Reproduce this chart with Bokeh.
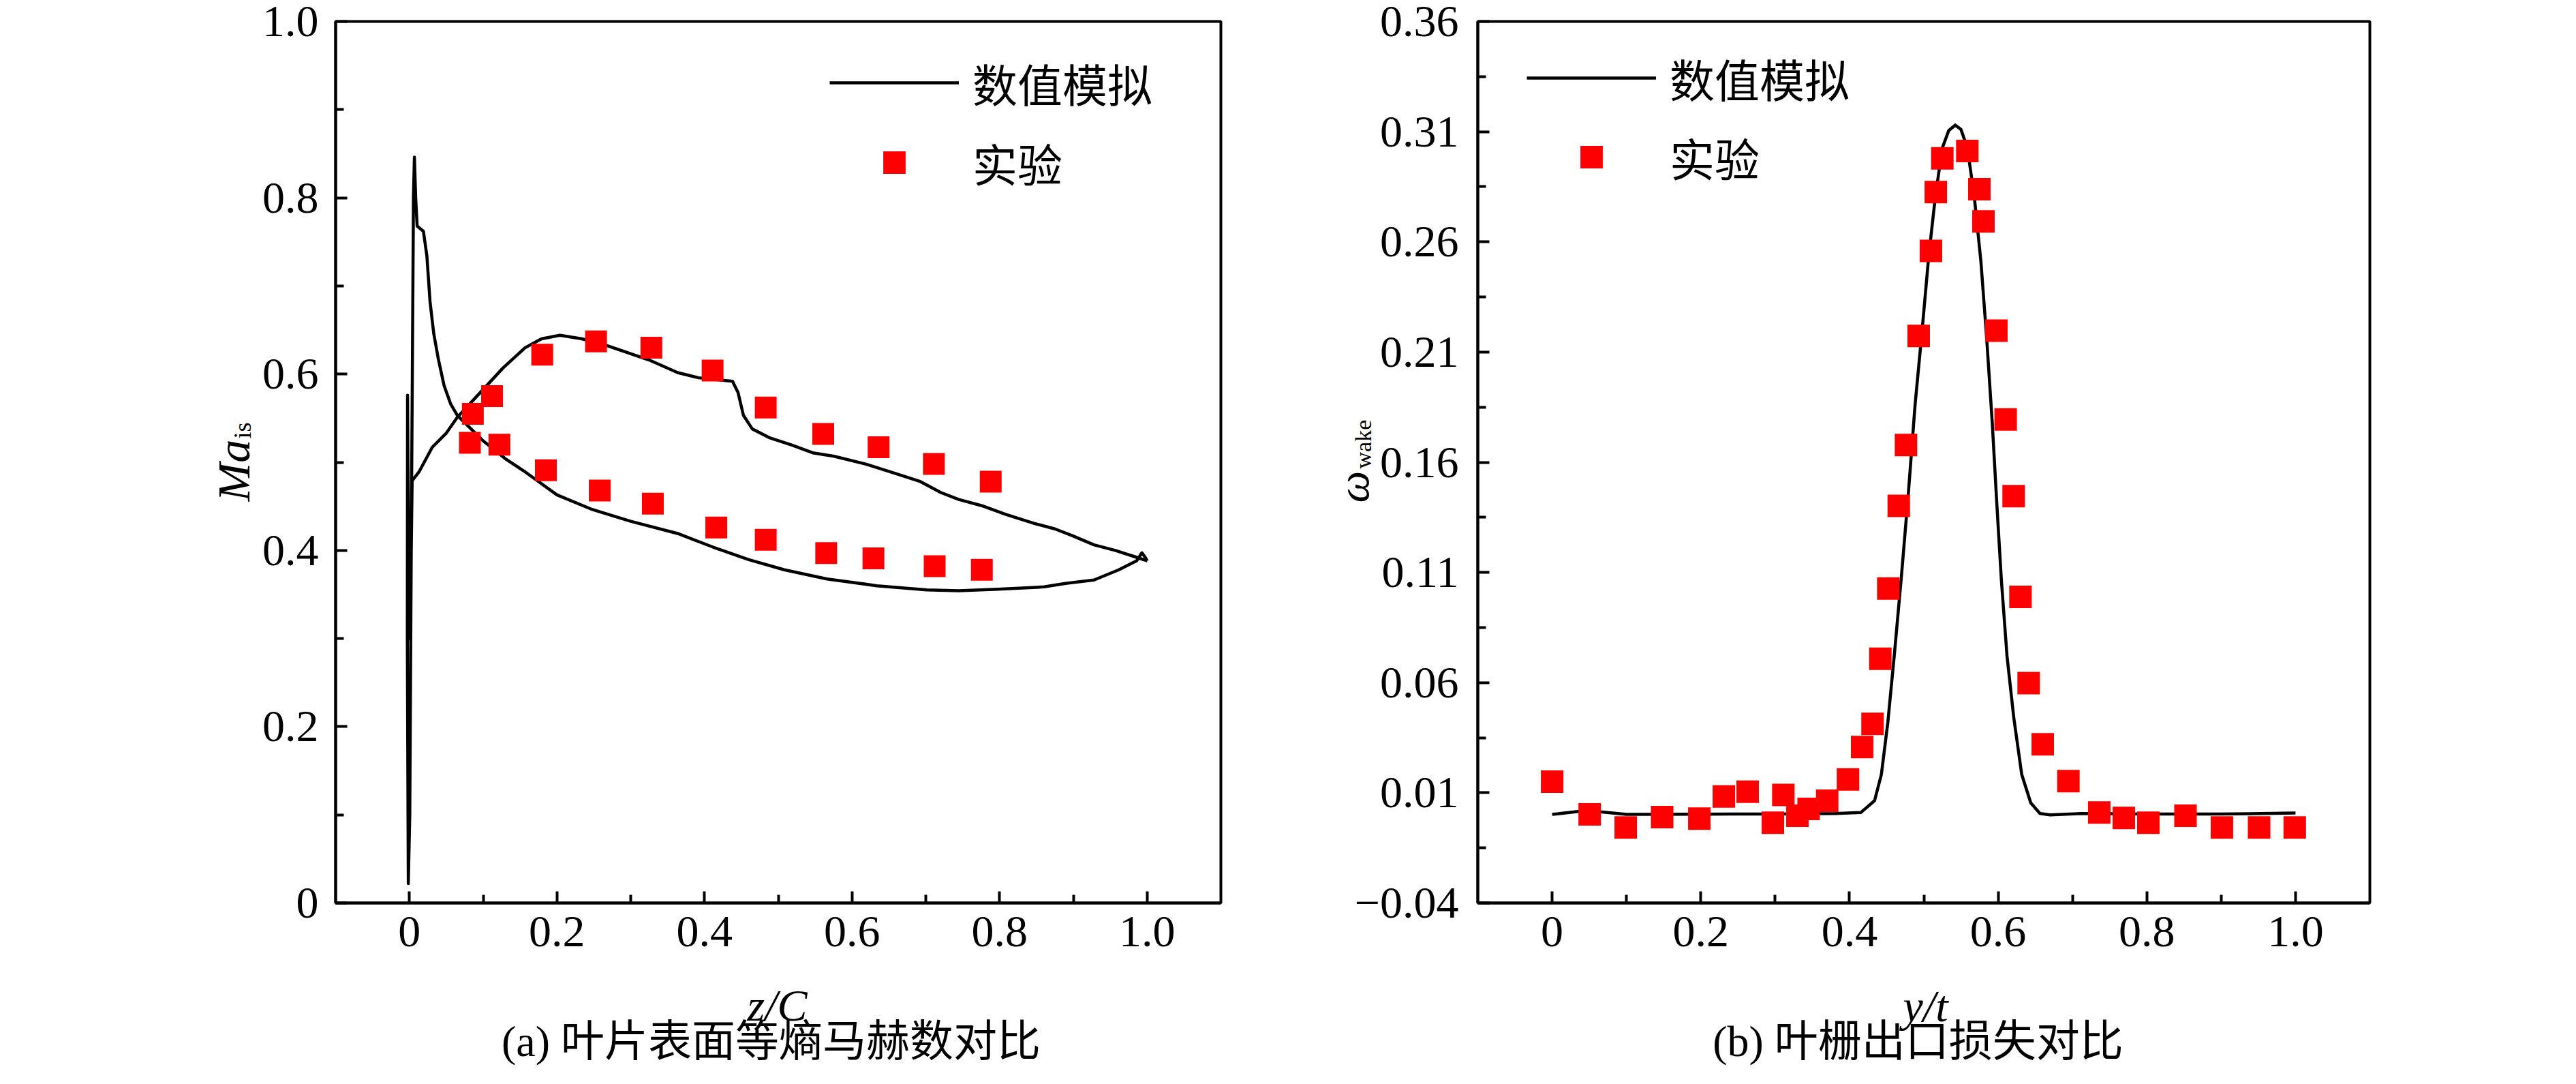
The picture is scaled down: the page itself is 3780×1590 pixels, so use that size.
import math
from bokeh.plotting import figure
from bokeh.models import Range1d, FixedTicker, Legend, LegendItem
from bokeh.layouts import row, column
from bokeh.embed import file_html
from bokeh.resources import INLINE
from bokeh.core.properties import value

# ---------------- (a) isentropic Mach number on blade surface ----------------
ma_sim_z = [1.0003, 0.9859, 0.9569, 0.9279, 0.899, 0.8749, 0.846, 0.8074, 0.7784,
            0.7447, 0.7205, 0.6915, 0.6578, 0.6192, 0.5757, 0.5468, 0.5179, 0.4889,
            0.4648, 0.4528, 0.4455, 0.438, 0.392, 0.3635, 0.325, 0.269, 0.234, 0.204,
            0.179, 0.157, 0.127, 0.096, 0.065, 0.05, 0.031, 0.013, 0.0037,
            0.0025, 0.0005, -0.0015, -0.0028, -0.0025, -0.002, 0.0, 0.002, 0.004,
            0.0055, 0.0068, 0.0085, 0.0105, 0.019, 0.0237,
            0.028, 0.033, 0.039, 0.047, 0.056, 0.065, 0.081, 0.099, 0.130, 0.157,
            0.2, 0.246, 0.30, 0.3635, 0.4117, 0.46, 0.5082, 0.5661, 0.6337, 0.7012,
            0.7447, 0.7977, 0.8604, 0.8894, 0.928, 0.9617, 0.9859, 0.993, 0.9975, 1.0003]
ma_sim_val = [0.3882, 0.3921, 0.3999, 0.4063, 0.4166, 0.4244, 0.4308, 0.4411, 0.4501,
              0.4578, 0.4656, 0.4785, 0.4875, 0.4978, 0.5068, 0.5107, 0.5197, 0.5275,
              0.5378, 0.5532, 0.579, 0.5919, 0.5958, 0.6017, 0.616, 0.632, 0.640, 0.644,
              0.640, 0.630, 0.607, 0.579, 0.551, 0.533, 0.517, 0.489, 0.479,
              0.40, 0.10, 0.022, 0.30, 0.576, 0.50, 0.30, 0.35, 0.60,
              0.80, 0.846, 0.80, 0.768, 0.762, 0.734,
              0.682, 0.646, 0.618, 0.587, 0.566, 0.553, 0.540, 0.525, 0.504, 0.489,
              0.463, 0.447, 0.433, 0.4192, 0.4037, 0.3895, 0.378, 0.3676, 0.3599, 0.3552,
              0.3542, 0.356, 0.3586, 0.3625, 0.3664, 0.378, 0.3882, 0.3973, 0.392, 0.3882]

ma_exp_z = [0.086, 0.112, 0.18, 0.253, 0.328, 0.411, 0.483, 0.561, 0.636, 0.711, 0.788,
            0.082, 0.122, 0.185, 0.258, 0.33, 0.416, 0.483, 0.565, 0.629, 0.712, 0.776]
ma_exp_val = [0.555, 0.575, 0.622, 0.637, 0.630, 0.604, 0.562, 0.532, 0.517, 0.498, 0.478,
              0.522, 0.520, 0.491, 0.468, 0.453, 0.426, 0.412, 0.397, 0.391, 0.382, 0.378]

# ---------------- (b) cascade exit loss ----------------
wake_sim_y = [0.0, 0.035, 0.06, 0.1, 0.2, 0.3, 0.3813, 0.4154, 0.4337, 0.4429, 0.4516,
              0.4608, 0.47, 0.4791, 0.4883, 0.4974, 0.5065, 0.5157, 0.525, 0.5335,
              0.5423, 0.55, 0.5585, 0.5677, 0.5768, 0.5845, 0.5921, 0.5982, 0.6043,
              0.6119, 0.621, 0.6317, 0.6439, 0.6563, 0.67, 0.7113, 0.8, 0.9, 1.0]
wake_sim_val = [0.0002, 0.0015, 0.0015, 0.0002, 0.0003, 0.0004, 0.0006, 0.0011, 0.0064,
                0.0183, 0.042, 0.0743, 0.1088, 0.1454, 0.1863, 0.2187, 0.2531, 0.2811,
                0.3027, 0.3105, 0.313, 0.311, 0.3027, 0.2811, 0.251, 0.2165, 0.1777,
                0.1411, 0.1067, 0.0721, 0.0441, 0.0183, 0.0054, 0.0006, 0.0, 0.0006,
                0.0004, 0.0004, 0.0008]

wake_exp_y = [0.0, 0.0505, 0.099, 0.148, 0.198, 0.231, 0.263, 0.297, 0.311, 0.33, 0.345,
              0.37, 0.398, 0.417, 0.431, 0.4415, 0.4522, 0.4663, 0.476, 0.4931, 0.5096,
              0.5161, 0.5249, 0.5585, 0.5747, 0.5802, 0.5976, 0.6101, 0.6208, 0.63,
              0.641, 0.66, 0.6945, 0.736, 0.769, 0.802, 0.852, 0.901, 0.951, 0.999]
wake_exp_val = [0.0151, 0.0002, -0.0057, -0.001, -0.0017, 0.0083, 0.0105, -0.0036, 0.009,
                -0.0004, 0.0027, 0.0064, 0.0161, 0.0308, 0.0413, 0.0708, 0.1027, 0.1402,
                0.1678, 0.2173, 0.2559, 0.2826, 0.2979, 0.3012, 0.2839, 0.2693, 0.2197,
                0.1794, 0.1446, 0.0989, 0.0598, 0.032, 0.0153, 0.0011, -0.0014, -0.0036,
                -0.0004, -0.0057, -0.0057, -0.0057]

# ---------------- ticks ----------------
x_ticks = [0, 0.2, 0.4, 0.6, 0.8, 1.0]
x_tick_labels = ["0", "0.2", "0.4", "0.6", "0.8", "1.0"]
x_minor = [0.1, 0.3, 0.5, 0.7, 0.9]
ma_ticks = [0, 0.2, 0.4, 0.6, 0.8, 1.0]
ma_tick_labels = ["0", "0.2", "0.4", "0.6", "0.8", "1.0"]
ma_minor = [0.1, 0.3, 0.5, 0.7, 0.9]
wake_ticks = [-0.04, 0.01, 0.06, 0.11, 0.16, 0.21, 0.26, 0.31, 0.36]
wake_tick_labels = ["\u22120.04", "0.01", "0.06", "0.11", "0.16", "0.21", "0.26", "0.31", "0.36"]
wake_minor = [-0.015, 0.035, 0.085, 0.135, 0.185, 0.235, 0.285, 0.335]

legend_labels = ["数值模拟", "实验"]

# ---------------- texts outside the plot frames (page pixels, y downward) ----------------
axis_texts = ["Ma", "is", "z/C", "\u03c9", "wake", "y/t"]
axis_text_x = [342, 355, 1140, 1985, 2000, 2825]
axis_text_y = [735, 643, 1474, 737, 687, 1475]
axis_text_size = ["68px", "36px", "66px", "66px", "34px", "66px"]
axis_text_style = ["italic", "normal", "italic", "italic", "normal", "italic"]
axis_text_angle = [math.pi / 2, math.pi / 2, 0, math.pi / 2, math.pi / 2, 0]
axis_text_align = ["left", "left", "center", "left", "left", "center"]

captions = ["(a) 叶片表面等熵马赫数对比", "(b) 叶栅出口损失对比"]
caption_x = [1131, 2814]
caption_y = [1527, 1527]

SERIF = "Liberation Serif"
CJK = "'Liberation Serif', 'Noto Sans CJK SC'"
RED = "#FF0000"
PAGE_W, PAGE_H = 3764, 1574


def style(p, xt, xl, xm, yt, yl, ym, ystand):
    p.xgrid.visible = False
    p.ygrid.visible = False
    p.outline_line_color = "black"
    p.outline_line_width = 4
    p.outline_line_alpha = 1.0
    p.background_fill_color = "white"
    p.border_fill_color = "white"
    for ax, t, l, m in ((p.xaxis[0], xt, xl, xm), (p.yaxis[0], yt, yl, ym)):
        ax.ticker = FixedTicker(ticks=t, minor_ticks=m)
        ax.major_label_overrides = {v: s for v, s in zip(t, l)}
        ax.axis_line_width = 4
        ax.axis_line_color = "black"
        ax.major_tick_in = 17
        ax.major_tick_out = 0
        ax.minor_tick_in = 12
        ax.minor_tick_out = 0
        ax.major_tick_line_width = 4
        ax.minor_tick_line_width = 4
        ax.major_tick_line_color = "black"
        ax.minor_tick_line_color = "black"
        ax.major_label_text_font = SERIF
        ax.major_label_text_font_size = "66px"
        ax.major_label_text_color = "black"
    p.xaxis[0].major_label_standoff = 20
    p.yaxis[0].major_label_standoff = ystand


def add_legend(p, line_r, sc_r, loc, spacing):
    lg = Legend(items=[LegendItem(label=legend_labels[0], renderers=[line_r]),
                       LegendItem(label=legend_labels[1], renderers=[sc_r])],
                location=loc, glyph_width=190, glyph_height=82, spacing=spacing,
                label_standoff=20, padding=0, margin=0,
                border_line_alpha=0, background_fill_alpha=0,
                label_text_font="Noto Sans CJK SC", label_text_font_size="66px",
                label_text_color="black")
    p.add_layout(lg)


# ---------------- figure (a) ----------------
p1 = figure(width=1880, height=PAGE_H, x_range=Range1d(-0.1, 1.1), y_range=Range1d(0, 1.0),
            output_backend="svg", toolbar_location=None,
            min_border_left=492, min_border_right=89, min_border_top=31, min_border_bottom=250)
style(p1, x_ticks, x_tick_labels, x_minor, ma_ticks, ma_tick_labels, ma_minor, 25)
l1 = p1.line(ma_sim_z, ma_sim_val, line_color="black", line_width=4.5, line_join="round")
s1 = p1.scatter(ma_exp_z, ma_exp_val, marker="square", size=32, fill_color=RED, line_color=None)
add_legend(p1, l1, s1, (725, 1038), 21)

# ---------------- figure (b) ----------------
p2 = figure(width=1884, height=PAGE_H, x_range=Range1d(-0.1, 1.1), y_range=Range1d(-0.04, 0.36),
            output_backend="svg", toolbar_location=None,
            min_border_left=288, min_border_right=287, min_border_top=26, min_border_bottom=246)
style(p2, x_ticks, x_tick_labels, x_minor, wake_ticks, wake_tick_labels, wake_minor, 28)
l2 = p2.line(wake_sim_y, wake_sim_val, line_color="black", line_width=4.5, line_join="round")
s2 = p2.scatter(wake_exp_y, wake_exp_val, marker="square", size=33, fill_color=RED, line_color=None)
add_legend(p2, l2, s2, (72, 1046), 20)

# ---------------- transparent text layer over both panels ----------------
ov = figure(width=PAGE_W, height=PAGE_H, x_range=Range1d(0, PAGE_W), y_range=Range1d(PAGE_H, 0),
            output_backend="svg", toolbar_location=None, x_axis_location=None,
            y_axis_location=None, min_border=0, min_border_left=0, min_border_right=0,
            min_border_top=0, min_border_bottom=0)
ov.xgrid.visible = False
ov.ygrid.visible = False
ov.outline_line_color = None
ov.background_fill_alpha = 0
ov.border_fill_alpha = 0
ov.text(x=axis_text_x, y=axis_text_y, text=axis_texts, text_font=value(SERIF),
        text_font_size=axis_text_size, text_font_style=axis_text_style,
        angle=axis_text_angle, text_align=axis_text_align, text_baseline="alphabetic",
        text_color="black")
ov.text(x=caption_x, y=caption_y, text=captions, text_font=value(CJK),
        text_font_size="64px", text_align="center", text_baseline="middle",
        text_color="black")
ov.margin = (-PAGE_H, 0, 0, 0)

layout = column(row(p1, p2), ov)
open("out.html", "w").write(file_html(layout, INLINE, title="chart"))
